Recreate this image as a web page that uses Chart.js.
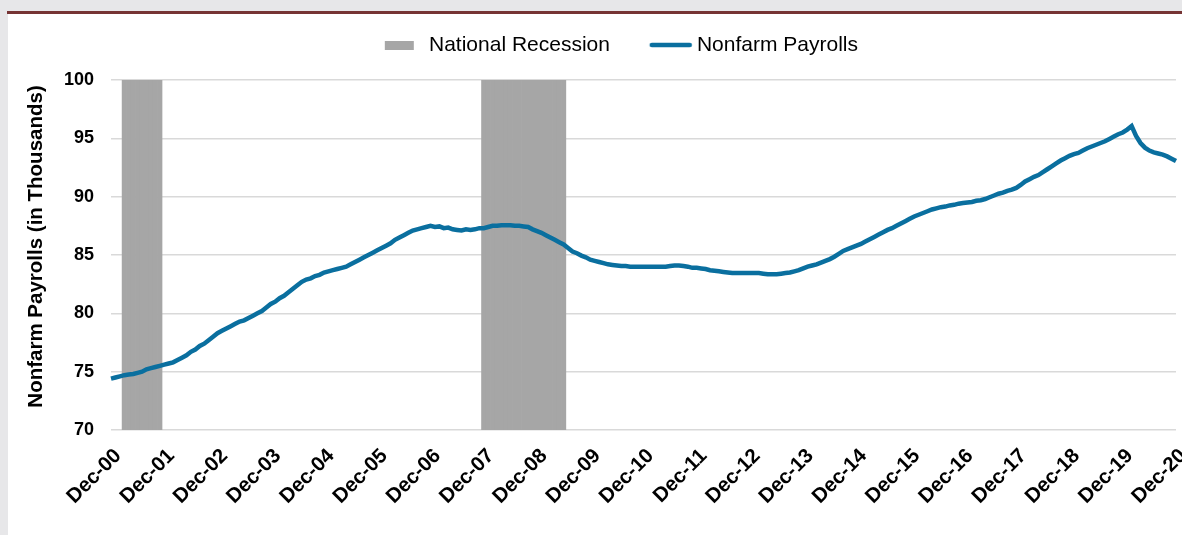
<!DOCTYPE html>
<html>
<head>
<meta charset="utf-8">
<script src="https://cdn.jsdelivr.net/npm/chart.js@4.4.1/dist/chart.umd.min.js"></script>
<style>
  html, body { margin: 0; padding: 0; }
  body { width: 1182px; height: 535px; background: #e7e7e9; position: relative; overflow: hidden; }
  #rule { position: absolute; left: 7px; top: 11px; width: 1175px; height: 3px; background: #763434; }
  #panel { position: absolute; left: 8px; top: 14px; width: 1174px; height: 521px; background: #fff; }
</style>
</head>
<body>
<div id="rule"></div>
<div id="panel"><canvas id="payrollChart"></canvas></div>
<script>
const tickLabels = ['Dec-00', 'Dec-01', 'Dec-02', 'Dec-03', 'Dec-04', 'Dec-05', 'Dec-06',
  'Dec-07', 'Dec-08', 'Dec-09', 'Dec-10', 'Dec-11', 'Dec-12', 'Dec-13', 'Dec-14',
  'Dec-15', 'Dec-16', 'Dec-17', 'Dec-18', 'Dec-19', 'Dec-20'];
const monthNames = ['Jan', 'Feb', 'Mar', 'Apr', 'May', 'Jun', 'Jul', 'Aug', 'Sep', 'Oct', 'Nov', 'Dec'];

// recession spans (first and last month shaded)
const recessions = [['Mar-01', 'Nov-01'], ['Dec-07', 'Jun-09']];

// monthly nonfarm payrolls, thousands (Dec-00 then Jan..Dec of each year)
const payrolls = [
  74.4,
  74.5, 74.6, 74.7, 74.75, 74.8, 74.9, 75.0, 75.2, 75.3, 75.4, 75.5, 75.6,
  75.7, 75.8, 76.0, 76.2, 76.4, 76.7, 76.9, 77.2, 77.4, 77.7, 78.0, 78.3,
  78.5, 78.7, 78.9, 79.1, 79.3, 79.4, 79.6, 79.8, 80.0, 80.2, 80.5, 80.8,
  81.0, 81.3, 81.5, 81.8, 82.1, 82.4, 82.7, 82.9, 83.0, 83.2, 83.3, 83.5,
  83.6, 83.7, 83.8, 83.9, 84.0, 84.2, 84.4, 84.6, 84.8, 85.0, 85.2, 85.4,
  85.6, 85.8, 86.0, 86.3, 86.5, 86.7, 86.9, 87.1, 87.2, 87.3, 87.4, 87.5,
  87.4, 87.45, 87.3, 87.35, 87.2, 87.15, 87.1, 87.2, 87.15, 87.2, 87.3, 87.3,
  87.4, 87.5, 87.5, 87.55, 87.55, 87.55, 87.5, 87.5, 87.45, 87.4, 87.2, 87.05,
  86.9, 86.7, 86.5, 86.3, 86.1, 85.9, 85.6, 85.3, 85.15, 84.95, 84.8, 84.6,
  84.5, 84.4, 84.3, 84.2, 84.15, 84.1, 84.05, 84.05, 84.0, 84.0, 84.0, 84.0,
  84.0, 84.0, 84.0, 84.0, 84.0, 84.05, 84.1, 84.1, 84.05, 84.0, 83.9, 83.9,
  83.85, 83.8, 83.7, 83.65, 83.6, 83.55, 83.5, 83.45, 83.45, 83.45, 83.45, 83.45,
  83.45, 83.45, 83.4, 83.35, 83.35, 83.35, 83.4, 83.45, 83.5, 83.6, 83.7, 83.85,
  84.0, 84.1, 84.2, 84.35, 84.5, 84.65, 84.85, 85.1, 85.35, 85.5, 85.65, 85.8,
  85.95, 86.15, 86.35, 86.55, 86.75, 86.95, 87.15, 87.3, 87.5, 87.7, 87.9, 88.1,
  88.3, 88.45, 88.6, 88.75, 88.9, 89.0, 89.1, 89.15, 89.25, 89.3, 89.4, 89.45,
  89.5, 89.55, 89.65, 89.7, 89.8, 89.95, 90.1, 90.25, 90.35, 90.5, 90.6, 90.75,
  91.0, 91.3, 91.5, 91.7, 91.85, 92.1, 92.35, 92.6, 92.85, 93.1, 93.3, 93.5,
  93.65, 93.75, 93.95, 94.15, 94.3, 94.45, 94.6, 94.75, 94.95, 95.15, 95.35, 95.5,
  95.75, 96.05, 95.2, 94.6, 94.2, 93.95, 93.8, 93.7, 93.6, 93.45, 93.25, 93.05
];

const yMin = 70;
const yMax = 100;
const yStep = 5;

// month categories: Dec-00, Jan-01 ... Dec-20
const months = payrolls.map((v, i) => {
  const year = Math.floor((i + 11) / 12);
  return monthNames[(i + 11) % 12] + '-' + tickLabels[year].slice(4);
});

const recessionBars = months.map((m, i) => {
  const hit = recessions.some(([a, b]) => i >= months.indexOf(a) && i <= months.indexOf(b));
  return hit ? yMax : null;
});

const LINE_BLUE = '#0a6f9f';
const RECESSION_GREY = '#a6a6a6';
const FONT = "'Liberation Sans', Arial, sans-serif";

// legend markers (wide box and a thick line), centred on the legend slot
function legendMarker(kind) {
  const c = document.createElement('canvas');
  c.width = 125;
  c.height = 12;
  const g = c.getContext('2d');
  if (kind === 'box') {
    g.fillStyle = RECESSION_GREY;
    g.fillRect(60, 2, 29, 9);
  } else {
    g.strokeStyle = LINE_BLUE;
    g.lineWidth = 4.5;
    g.lineCap = 'round';
    g.beginPath();
    g.moveTo(59, 6);
    g.lineTo(97, 6);
    g.stroke();
  }
  return c;
}

// leave a gap between the legend row and the plot
const legendSpacer = {
  id: 'legendSpacer',
  beforeInit(chart) {
    if (!chart.legend) return;
    const fit = chart.legend.fit;
    chart.legend.fit = function () {
      fit.call(this);
      this.height += 14.5;
    };
  }
};

new Chart(document.getElementById('payrollChart'), {
  data: {
    labels: months,
    datasets: [
      {
        type: 'line',
        label: 'Nonfarm Payrolls',
        data: payrolls,
        borderColor: LINE_BLUE,
        backgroundColor: LINE_BLUE,
        borderWidth: 4.5,
        pointRadius: 0,
        pointStyle: legendMarker('line'),
        tension: 0,
      },
      {
        type: 'bar',
        label: 'National Recession',
        data: recessionBars,
        backgroundColor: RECESSION_GREY,
        borderWidth: 0,
        barPercentage: 1,
        categoryPercentage: 1,
        pointStyle: legendMarker('box'),
      },
    ],
  },
  options: {
    responsive: true,
    maintainAspectRatio: false,
    animation: false,
    layout: {
      autoPadding: false,
      padding: { left: 30, right: 6, top: 6.5, bottom: 0 },
    },
    plugins: {
      tooltip: { enabled: false },
      legend: {
        position: 'top',
        labels: {
          sort: (a, b) => b.datasetIndex - a.datasetIndex,
          usePointStyle: true,
          pointStyleWidth: 62.5,
          padding: 14,
          color: '#000',
          font: { family: FONT, size: 21 },
        },
      },
    },
    scales: {
      x: {
        type: 'category',
        offset: false,
        grid: { display: false, drawTicks: false },
        border: { display: false },
        afterFit: (s) => {
          s.height = 105;
          s.paddingLeft = 0;
          s.paddingRight = 0;
        },
        ticks: {
          autoSkip: false,
          minRotation: 45,
          maxRotation: 45,
          padding: 14,
          labelOffset: 7,
          color: '#000',
          font: { family: FONT, size: 20.5, weight: 'bold' },
          callback: function (v, i) {
            return i % 12 === 0 ? tickLabels[i / 12] : null;
          },
        },
      },
      y: {
        min: yMin,
        max: yMax,
        afterFit: (s) => {
          s.width = 73;
          s.paddingTop = 0;
          s.paddingBottom = 0;
        },
        grid: { color: '#d9d9d9', lineWidth: 1.5, drawTicks: false },
        border: { display: false },
        ticks: {
          stepSize: yStep,
          padding: 17,
          color: '#000',
          font: { family: FONT, size: 18, weight: 'bold' },
        },
        title: {
          display: true,
          text: '   Nonfarm Payrolls (in Thousands)',
          color: '#000',
          padding: { top: -14, bottom: 0 },
          font: { family: FONT, size: 20.5, weight: 'bold' },
        },
      },
    },
  },
  plugins: [legendSpacer],
});
</script>
</body>
</html>
